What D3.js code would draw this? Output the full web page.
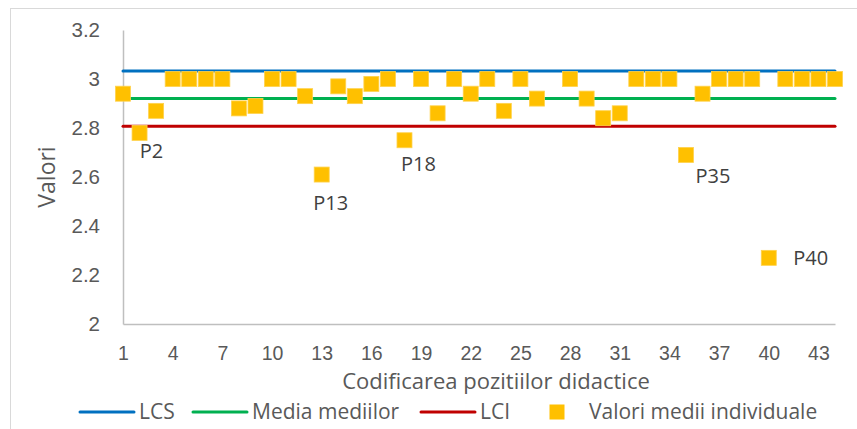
<!DOCTYPE html>
<html>
<head>
<meta charset="utf-8">
<script src="https://cdn.jsdelivr.net/npm/d3@7"></script>
<style>
  body { margin: 0; background: #fff; }
  svg { display: block; font-family: "Open Sans", "Noto Sans", sans-serif; }
</style>
</head>
<body>
<div id="chart"></div>
<script>
// positions P1..P44 (P27 has no value in the source)
const positions = d3.range(1, 45);
const values = [
  2.94, 2.78, 2.87, 3.00, 3.00, 3.00, 3.00, 2.88, 2.89, 3.00,
  3.00, 2.93, 2.61, 2.97, 2.93, 2.98, 3.00, 2.75, 3.00, 2.86,
  3.00, 2.94, 3.00, 2.87, 3.00, 2.92, null, 3.00, 2.92, 2.84,
  2.86, 3.00, 3.00, 3.00, 2.69, 2.94, 3.00, 3.00, 3.00, 2.27,
  3.00, 3.00, 3.00, 3.00
];
const lcs = 3.033;
const media = 2.92;
const lci = 2.807;
const yTicks = [2, 2.2, 2.4, 2.6, 2.8, 3, 3.2];
const xTicks = [1, 4, 7, 10, 13, 16, 19, 22, 25, 28, 31, 34, 37, 40, 43];
const labelled = ["P2", "P13", "P18", "P35", "P40"];

const width = 857, height = 429;
const marginLeft = 123, marginRight = 22, marginTop = 30, marginBottom = 105;
const textColor = "#595959";

const svg = d3.select("#chart").append("svg")
  .attr("width", width)
  .attr("height", height);

// chart frame (runs off the right/bottom of the picture)
svg.append("rect")
  .attr("x", 10.5).attr("y", 8.5)
  .attr("width", 900).attr("height", 500)
  .attr("fill", "none")
  .attr("stroke", "#d9d9d9");

const x = d3.scaleLinear()
  .domain([1, 44])
  .range([marginLeft, width - marginRight]);

const y = d3.scaleLinear()
  .domain([2, 3.2])
  .range([height - marginBottom, marginTop]);

// y axis
svg.append("g")
  .attr("transform", `translate(${marginLeft},0)`)
  .call(d3.axisLeft(y).tickValues(yTicks).tickSize(0).tickPadding(23)
    .tickFormat(d => String(+d.toFixed(1))))
  .call(g => g.select(".domain").attr("stroke", "#bfbfbf").attr("stroke-width", 1.5))
  .call(g => g.selectAll("text")
    .attr("fill", textColor).attr("font-size", 20.5));

// x axis
svg.append("g")
  .attr("transform", `translate(0,${y(2)})`)
  .call(d3.axisBottom(x).tickValues(xTicks).tickSize(0).tickPadding(22))
  .call(g => g.select(".domain").attr("stroke", "#bfbfbf").attr("stroke-width", 1.5))
  .call(g => g.selectAll("text")
    .attr("fill", textColor).attr("font-size", 19.5));

// axis titles
svg.append("text")
  .attr("x", 496).attr("y", 389)
  .attr("text-anchor", "middle")
  .attr("fill", textColor).attr("font-size", 22)
  .text("Codificarea pozitiilor didactice");

svg.append("text")
  .attr("transform", `translate(55,${y(2.6)}) rotate(-90)`)
  .attr("text-anchor", "middle")
  .attr("fill", textColor).attr("font-size", 23)
  .text("Valori");

// control lines
const lines = [
  {name: "LCS", value: lcs, color: "#0070c0"},
  {name: "Media mediilor", value: media, color: "#00b050"},
  {name: "LCI", value: lci, color: "#c00000"}
];

const line = d3.line()
  .x(d => x(d[0]))
  .y(d => y(d[1]));

svg.append("g")
  .selectAll("path")
  .data(lines)
  .join("path")
    .attr("d", d => line(positions.map(p => [p, d.value])))
    .attr("fill", "none")
    .attr("stroke", d => d.color)
    .attr("stroke-width", 3)
    .attr("stroke-linecap", "round");

// individual values
const points = positions
  .map((p, i) => ({pos: p, value: values[i], name: "P" + p}))
  .filter(d => d.value !== null);

const size = 15;
svg.append("g")
  .selectAll("rect")
  .data(points)
  .join("rect")
    .attr("x", d => x(d.pos) - size / 2)
    .attr("y", d => y(d.value) - size / 2)
    .attr("width", size)
    .attr("height", size)
    .attr("fill", "#ffc000")
    .attr("stroke", "#ffd24d")
    .attr("stroke-width", 0.8);

// data labels for the outliers
const labelOffset = {P2: [12, 18], P13: [9, 28], P18: [14, 24], P35: [27, 21], P40: [42, 0]};
svg.append("g")
  .selectAll("text")
  .data(points.filter(d => labelled.includes(d.name)))
  .join("text")
    .attr("x", d => x(d.pos) + labelOffset[d.name][0])
    .attr("y", d => y(d.value) + labelOffset[d.name][1])
    .attr("dy", "0.35em")
    .attr("text-anchor", "middle")
    .attr("fill", "#404040").attr("font-size", 20)
    .text(d => d.name);

// legend
const legendY = 412;
const legend = svg.append("g").attr("font-size", 21).attr("fill", textColor);
const legendX = [80, 193, 421];
lines.forEach((d, i) => {
  legend.append("line")
    .attr("x1", legendX[i]).attr("x2", legendX[i] + 54)
    .attr("y1", legendY).attr("y2", legendY)
    .attr("stroke", d.color).attr("stroke-width", 3)
    .attr("stroke-linecap", "round");
  legend.append("text")
    .attr("x", legendX[i] + 59).attr("y", legendY)
    .attr("dy", "0.35em")
    .text(d.name);
});
legend.append("rect")
  .attr("x", 557 - size / 2).attr("y", legendY - size / 2)
  .attr("width", size).attr("height", size)
  .attr("fill", "#ffc000");
legend.append("text")
  .attr("x", 589).attr("y", legendY)
  .attr("dy", "0.35em")
  .text("Valori medii individuale");
</script>
</body>
</html>
